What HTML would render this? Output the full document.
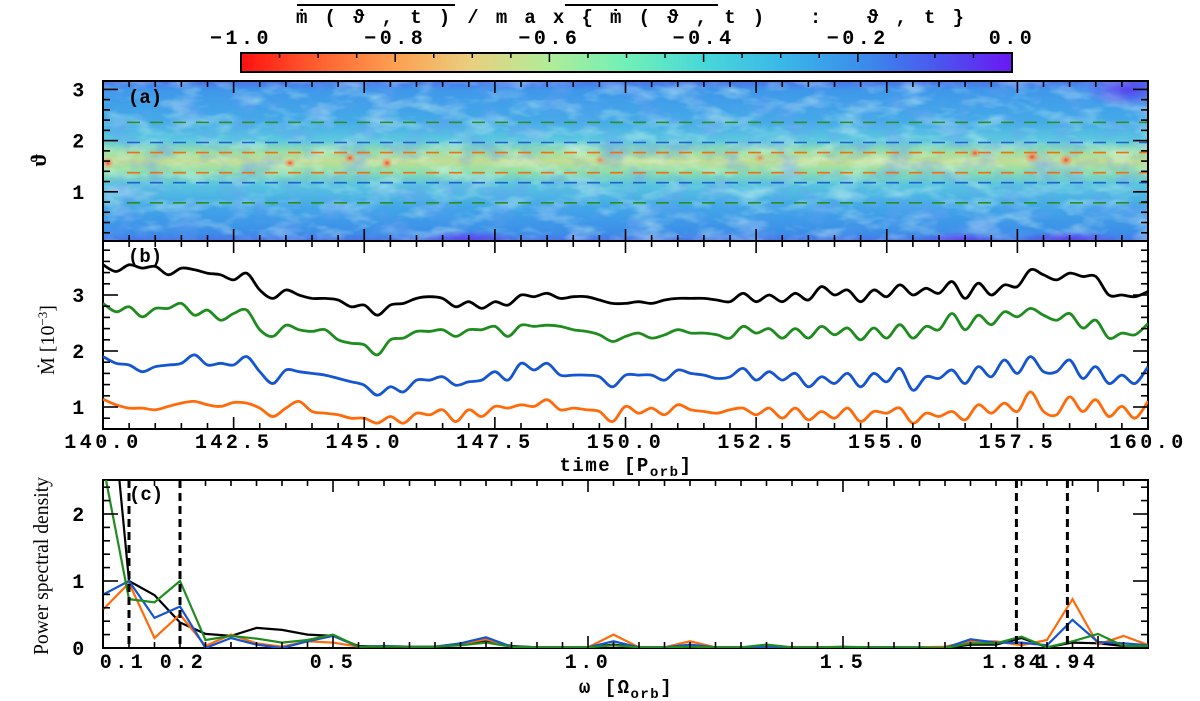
<!DOCTYPE html>
<html><head><meta charset="utf-8">
<style>
html,body{margin:0;padding:0;background:#fff;}
svg{display:block;}
.tk{font-family:"Liberation Mono",monospace;font-weight:bold;font-size:20px;letter-spacing:3.5px;fill:#000;}
.lab{font-family:"Liberation Mono",monospace;font-weight:bold;font-size:19px;fill:#000;}
</style></head>
<body>
<svg id="chart" width="1200" height="701" viewBox="0 0 1200 701" xmlns="http://www.w3.org/2000/svg">
<defs>
  <linearGradient id="cbar" x1="0" y1="0" x2="1" y2="0">
    <stop offset="0" stop-color="#ff1010"/>
    <stop offset="0.1" stop-color="#ff6030"/>
    <stop offset="0.2" stop-color="#fca050"/>
    <stop offset="0.3" stop-color="#e8d080"/>
    <stop offset="0.4" stop-color="#b0ec98"/>
    <stop offset="0.5" stop-color="#70f0b8"/>
    <stop offset="0.6" stop-color="#48d8d8"/>
    <stop offset="0.7" stop-color="#3ab8e8"/>
    <stop offset="0.8" stop-color="#3a90ea"/>
    <stop offset="0.9" stop-color="#4a58ee"/>
    <stop offset="1" stop-color="#6a18f4"/>
  </linearGradient>
  <linearGradient id="heat" x1="0" y1="0" x2="0" y2="1">
    <stop offset="0" stop-color="#4a72e8"/>
    <stop offset="0.06" stop-color="#3e98ea"/>
    <stop offset="0.25" stop-color="#44aae8"/>
    <stop offset="0.37" stop-color="#5cc8e0"/>
    <stop offset="0.45" stop-color="#a0e0a4"/>
    <stop offset="0.5" stop-color="#c4dc92"/>
    <stop offset="0.56" stop-color="#94e0aa"/>
    <stop offset="0.65" stop-color="#58c4e0"/>
    <stop offset="0.8" stop-color="#40a4e8"/>
    <stop offset="0.95" stop-color="#3c8ee8"/>
    <stop offset="1" stop-color="#4a72e8"/>
  </linearGradient>
  <filter id="mottle" x="0" y="0" width="1" height="1">
    <feTurbulence type="fractalNoise" baseFrequency="0.03 0.07" numOctaves="3" seed="7"/>
    <feColorMatrix type="matrix" values="0 0 0 0 0.8  0 0 0 0 1  0 0 0 0 0.9  2.2 0 0 0 -1.0"/>
  </filter>
  <filter id="mottle2" x="0" y="0" width="1" height="1">
    <feTurbulence type="fractalNoise" baseFrequency="0.035 0.05" numOctaves="3" seed="3"/>
    <feColorMatrix type="matrix" values="0 0 0 0 0.15  0 0 0 0 0.35  0 0 0 0 0.9  2.2 0 0 0 -1.0"/>
  </filter>
  <radialGradient id="spot"><stop offset="0" stop-color="#ff3020" stop-opacity="0.9"/><stop offset="0.5" stop-color="#fc8050" stop-opacity="0.5"/><stop offset="1" stop-color="#fc8050" stop-opacity="0"/></radialGradient>
  <radialGradient id="purp"><stop offset="0" stop-color="#6030f0" stop-opacity="0.8"/><stop offset="1" stop-color="#6030f0" stop-opacity="0"/></radialGradient>
  <clipPath id="clipA"><rect x="103" y="81" width="1045" height="160"/></clipPath>
  <clipPath id="clipB"><rect x="103" y="241" width="1045" height="188"/></clipPath>
  <clipPath id="clipC"><rect x="103" y="480" width="1045" height="168"/></clipPath>
</defs>

<!-- colorbar -->
<g>
  <text class="lab" x="296" y="23" textLength="668" lengthAdjust="spacing" font-size="21">ṁ(ϑ,t)/max{ṁ(ϑ,t) : ϑ,t}</text>
  <line x1="297" y1="5" x2="455" y2="5" stroke="#000" stroke-width="2"/>
  <line x1="565" y1="5" x2="718" y2="5" stroke="#000" stroke-width="2"/>
  <rect x="241" y="53" width="771" height="19" fill="url(#cbar)" stroke="#000" stroke-width="2"/>
  <g id="cbticks"></g>
</g>

<!-- panel a -->
<g clip-path="url(#clipA)">
  <rect x="103" y="81" width="1045" height="160" fill="url(#heat)"/>
  <rect x="103" y="81" width="1045" height="160" filter="url(#mottle)" opacity="0.5"/>
  <rect x="103" y="81" width="1045" height="160" filter="url(#mottle2)" opacity="0.55"/>
  <ellipse cx="1128" cy="90" rx="45" ry="18" fill="url(#purp)"/>
  <ellipse cx="470" cy="240" rx="50" ry="10" fill="url(#purp)"/>
  <ellipse cx="960" cy="240" rx="40" ry="8" fill="url(#purp)"/>
  <ellipse cx="1070" cy="240" rx="50" ry="9" fill="url(#purp)"/>
  <ellipse cx="1032" cy="157" rx="8" ry="6" fill="url(#spot)"/>
  <ellipse cx="1066" cy="160" rx="7" ry="6" fill="url(#spot)"/>
  <ellipse cx="975" cy="153" rx="6" ry="5" fill="url(#spot)"/>
  <ellipse cx="387" cy="163" rx="6" ry="6" fill="url(#spot)"/>
  <ellipse cx="350" cy="158" rx="6" ry="5" fill="url(#spot)"/>
  <ellipse cx="290" cy="163" rx="6" ry="5" fill="url(#spot)"/>
  <ellipse cx="108" cy="163" rx="6" ry="6" fill="url(#spot)"/>
  <ellipse cx="600" cy="160" rx="6" ry="5" fill="url(#spot)" opacity="0.6"/>
  <ellipse cx="760" cy="158" rx="6" ry="5" fill="url(#spot)" opacity="0.6"/>
  <g id="adash"></g>
</g>
<rect x="103" y="81" width="1045" height="160" fill="none" stroke="#000" stroke-width="2"/>
<text class="lab" x="128" y="103" font-size="18">(a)</text>

<!-- panel b -->
<rect x="103" y="241" width="1045" height="188" fill="#fff" stroke="#000" stroke-width="2"/>
<g id="bseries" clip-path="url(#clipB)"></g>
<text class="lab" x="128" y="262" font-size="18">(b)</text>

<!-- panel c -->
<rect x="103" y="480" width="1045" height="168" fill="#fff" stroke="#000" stroke-width="2"/>
<g id="cseries" clip-path="url(#clipC)"></g>
<text class="lab" x="129" y="500" font-size="18">(c)</text>

<g id="axes"></g>

<text x="0" y="0" transform="translate(46,160) rotate(-90)" text-anchor="middle" font-family="Liberation Serif, serif" font-weight="bold" font-size="22">ϑ</text>
<text x="0" y="0" transform="translate(54,340) rotate(-90)" text-anchor="middle" font-family="Liberation Serif, serif" font-size="20">Ṁ [10<tspan dy="-7" font-size="13">−3</tspan><tspan dy="7">]</tspan></text>
<text x="0" y="0" transform="translate(48,566) rotate(-90)" text-anchor="middle" font-family="Liberation Serif, serif" font-size="21" textLength="178" lengthAdjust="spacingAndGlyphs">Power spectral density</text>
<text class="lab" x="626" y="471" text-anchor="middle" letter-spacing="1.5">time [P<tspan dy="5" font-size="14">orb</tspan><tspan dy="-5">]</tspan></text>
<text class="lab" x="626" y="693" text-anchor="middle" letter-spacing="1.5">ω [Ω<tspan dy="5" font-size="14">orb</tspan><tspan dy="-5">]</tspan></text>
</svg>

<script>
// ---------- data ----------
const tStart = 140, tStep = 0.25;
const mdotBlack = [3.54,3.42,3.54,3.48,3.51,3.36,3.48,3.45,3.39,3.36,3.27,3.39,3.09,2.94,3.09,3.0,2.94,2.94,2.91,2.79,2.82,2.64,2.82,2.85,2.94,2.97,2.94,2.79,
 2.88,2.76,2.88,2.82,3.0,2.97,3.03,2.94,2.97,2.97,2.91,2.85,2.85,2.88,2.85,2.91,2.94,2.94,2.94,2.91,2.88,3.03,2.88,3.0,2.88,3.03,2.91,
 3.15,3.0,3.09,2.88,3.09,2.97,3.18,3.0,3.12,3.03,3.24,2.94,3.21,3.0,3.18,3.15,3.45,3.36,3.27,3.39,3.33,3.33,3.0,3.0,2.97,3.06];
const mdotGreen = [2.85,2.70,2.79,2.61,2.76,2.76,2.85,2.64,2.73,2.55,2.67,2.73,2.38,2.26,2.46,2.38,2.35,2.38,2.20,2.14,2.11,1.93,2.20,2.23,2.35,2.35,2.38,2.26,
 2.38,2.38,2.44,2.26,2.46,2.44,2.46,2.44,2.38,2.35,2.29,2.17,2.26,2.32,2.23,2.29,2.38,2.32,2.32,2.29,2.23,2.44,2.32,2.40,2.23,2.40,2.23,
 2.44,2.29,2.41,2.20,2.41,2.23,2.47,2.23,2.44,2.38,2.67,2.38,2.64,2.47,2.70,2.61,2.76,2.64,2.55,2.67,2.41,2.55,2.23,2.32,2.29,2.49];
const mdotBlue = [1.90,1.78,1.75,1.63,1.72,1.75,1.78,1.93,1.75,1.78,1.75,1.90,1.63,1.42,1.66,1.63,1.60,1.57,1.51,1.45,1.39,1.21,1.36,1.27,1.48,1.48,1.54,1.39,
 1.45,1.48,1.63,1.48,1.78,1.66,1.78,1.57,1.57,1.57,1.54,1.36,1.57,1.57,1.57,1.48,1.66,1.60,1.57,1.51,1.54,1.69,1.48,1.63,1.48,1.60,1.36,
 1.54,1.42,1.60,1.36,1.60,1.45,1.69,1.30,1.54,1.51,1.66,1.42,1.72,1.54,1.84,1.60,1.90,1.63,1.63,1.84,1.51,1.72,1.42,1.57,1.42,1.72];
const mdotOrange = [1.14,1.04,0.98,0.98,0.95,1.01,1.07,1.10,1.04,1.01,1.08,1.07,0.98,0.83,0.98,1.10,0.92,0.89,0.86,0.80,0.80,0.71,0.83,0.71,0.89,0.86,0.95,0.74,
 0.95,0.83,1.01,0.98,1.04,1.01,1.13,0.95,0.98,0.95,0.92,0.74,1.01,0.89,0.98,0.86,1.04,0.95,0.92,0.89,0.95,0.98,0.86,0.98,0.80,0.98,0.77,
 0.92,0.80,0.98,0.74,0.92,0.89,0.98,0.71,0.89,0.83,0.92,0.77,1.04,0.89,1.07,0.92,1.27,0.92,0.86,1.18,0.92,1.13,0.83,1.01,0.80,1.10];

const omega = [0.05,0.10,0.15,0.20,0.25,0.30,0.35,0.40,0.45,0.50,0.55,0.60,0.65,0.70,0.75,0.80,0.85,0.90,0.95,1.00,1.05,1.10,1.15,1.20,1.25,1.30,1.35,1.40,1.45,1.50,1.55,1.60,1.65,1.70,1.75,1.80,1.85,1.90,1.95,2.00,2.05,2.10];
const psdBlack = [5.0,1.0,0.79,0.38,0.21,0.18,0.30,0.27,0.20,0.18,0.03,0.02,0.02,0.02,0.06,0.11,0.03,0.01,0.01,0.01,0.05,0.01,0.01,0.02,0.01,0.01,0.02,0.01,0.01,0.01,0.01,0.01,0.0,0.0,0.05,0.05,0.15,0.01,0.08,0.07,0.03,0.03];
const psdGreen = [2.7,0.73,0.68,1.0,0.12,0.18,0.14,0.08,0.12,0.2,0.02,0.02,0.02,0.02,0.04,0.08,0.02,0.01,0.01,0.01,0.04,0.01,0.01,0.02,0.01,0.01,0.05,0.01,0.01,0.02,0.01,0.01,0.01,0.0,0.07,0.07,0.17,0.01,0.1,0.21,0.03,0.03];
const psdBlue = [0.8,1.0,0.45,0.62,0.0,0.15,0.05,0.0,0.1,0.18,0.02,0.03,0.02,0.02,0.07,0.16,0.02,0.01,0.01,0.01,0.1,0.01,0.01,0.05,0.01,0.01,0.02,0.01,0.01,0.01,0.01,0.01,0.01,0.0,0.13,0.08,0.08,0.04,0.42,0.09,0.07,0.04];
const psdOrange = [0.58,0.97,0.15,0.5,0.03,0.2,0.07,0.02,0.1,0.08,0.02,0.03,0.02,0.02,0.06,0.13,0.02,0.01,0.01,0.01,0.2,0.01,0.01,0.1,0.01,0.01,0.01,0.01,0.01,0.01,0.01,0.01,0.01,0.02,0.1,0.1,0.04,0.12,0.73,0.05,0.18,0.04];
const markedFreqs = [0.1,0.2,1.84,1.94];
const markedFreqLabels = ["0.1","0.2","1.84","1.94"];
const omegaTickVals = [0.5,1.0,1.5];
const omegaTickLabels = ["0.5","1.0","1.5"];
const timeTickVals = [140,142.5,145,147.5,150,152.5,155,157.5,160];
const timeTickLabels = ["140.0","142.5","145.0","147.5","150.0","152.5","155.0","157.5","160.0"];
const cbarVals = [-1.0,-0.8,-0.6,-0.4,-0.2,0.0];
const cbarLabels = ["−1.0","−0.8","−0.6","−0.4","−0.2","0.0"];
const thetaLines = [2.356,1.963,1.767,1.374,1.178,0.785];
const thetaLineColors = ["#2e8b22","#2060c8","#f07010","#f07010","#2060c8","#2e8b22"];

// ---------- scales ----------
const NS = "http://www.w3.org/2000/svg";
const xt = t => 103 + (t - 140) * 52.25;
const ya = th => 243 - 51.2 * th;
const yb = v => 295 + (3 - v) * 56;
const xc = w => 78 + 510 * w;
const yc = v => 648 - 67 * v;
const xcb = v => 241 + (v + 1) * 771;

function mk(tag, attrs, parent) {
  const e = document.createElementNS(NS, tag);
  for (const k in attrs) e.setAttribute(k, attrs[k]);
  parent.appendChild(e);
  return e;
}
function smoothPath(pts) {
  let d = "M" + pts[0][0].toFixed(1) + "," + pts[0][1].toFixed(1);
  for (let i = 0; i < pts.length - 1; i++) {
    const p0 = pts[Math.max(0, i - 1)], p1 = pts[i], p2 = pts[i + 1], p3 = pts[Math.min(pts.length - 1, i + 2)];
    const c1x = p1[0] + (p2[0] - p0[0]) / 6, c1y = p1[1] + (p2[1] - p0[1]) / 6;
    const c2x = p2[0] - (p3[0] - p1[0]) / 6, c2y = p2[1] - (p3[1] - p1[1]) / 6;
    d += " C" + c1x.toFixed(1) + "," + c1y.toFixed(1) + " " + c2x.toFixed(1) + "," + c2y.toFixed(1) + " " + p2[0].toFixed(1) + "," + p2[1].toFixed(1);
  }
  return d;
}

const cbt = document.getElementById("cbticks");
cbarVals.forEach((v, i) => {
  const x = xcb(v);
  const tl = mk("text", {x: x, y: 44, "text-anchor": "middle", class: "tk"}, cbt);
  
  
  tl.textContent = cbarLabels[i];
});
for (let v = -0.95; v < 0; v += 0.05) {
  const x = xcb(v);
  const major = Math.abs(v * 5 - Math.round(v * 5)) < 1e-6;
  mk("line", {x1: x, x2: x, y1: 54, y2: major ? 62 : 58, stroke: "#000", "stroke-width": 1.5}, cbt);
}

const ad = document.getElementById("adash");
thetaLines.forEach((th, i) => {
  const l = mk("line", {x1: 127, x2: 1148, y1: ya(th), y2: ya(th), stroke: thetaLineColors[i], "stroke-width": 1.6, "stroke-dasharray": "13 10"}, ad);
  
  
});

const bs = document.getElementById("bseries");
[[mdotBlack, "#000"], [mdotGreen, "#1e8c1e"], [mdotBlue, "#1455d0"], [mdotOrange, "#ff6a0a"]].forEach(([arr, col], si) => {
  const pts = arr.map((v, i) => [xt(tStart + i * tStep), yb(v)]);
  const p = mk("path", {d: smoothPath(pts), fill: "none", stroke: col, "stroke-width": 2.8, "stroke-linejoin": "round"}, bs);
  
  
});

const cs = document.getElementById("cseries");
[[psdBlack, "#000"], [psdOrange, "#ff6a0a"], [psdBlue, "#1455d0"], [psdGreen, "#1e8c1e"]].forEach(([arr, col], si) => {
  const d = arr.map((v, i) => (i ? "L" : "M") + xc(omega[i]).toFixed(1) + "," + yc(v).toFixed(1)).join(" ");
  const p = mk("path", {d: d, fill: "none", stroke: col, "stroke-width": 2.2, "stroke-linejoin": "miter"}, cs);
  
  
});
markedFreqs.forEach(w => {
  const l = mk("line", {x1: xc(w), x2: xc(w), y1: 480, y2: 648, stroke: "#000", "stroke-width": 3, "stroke-dasharray": "8 5"}, cs);
  
  
});

const ax = document.getElementById("axes");
function tick(x1, y1, x2, y2) { mk("line", {x1, y1, x2, y2, stroke: "#000", "stroke-width": 1.6}, ax); }
for (let t = 140.5; t < 160; t += 0.5) {
  const x = xt(t);
  const major = Math.abs(t / 2.5 - Math.round(t / 2.5)) < 1e-6;
  const L = major ? 12 : 6;
  tick(x, 81, x, 81 + L); tick(x, 241, x, 241 - L);
  tick(x, 241, x, 241 + L); tick(x, 429, x, 429 - L);
}
timeTickVals.forEach((t, i) => {
  const e = mk("text", {x: xt(t), y: 448, "text-anchor": "middle", class: "tk"}, ax);
  
  
  e.textContent = timeTickLabels[i];
});
for (let th = 0.2; th < 3.14; th += 0.2) {
  const y = ya(th);
  const major = Math.abs(th - Math.round(th)) < 1e-6;
  const L = major ? 15 : 7;
  tick(103, y, 103 + L, y); tick(1148, y, 1148 - L, y);
}
[1, 2, 3].forEach(th => {
  const e = mk("text", {x: 80, y: ya(th) + 7, "text-anchor": "middle", class: "tk"}, ax);
  
  
  e.textContent = String(th);
});
for (let v = 0.8; v < 3.95; v += 0.2) {
  const y = yb(v);
  const major = Math.abs(v - Math.round(v)) < 1e-6;
  const L = major ? 15 : 7;
  tick(103, y, 103 + L, y); tick(1148, y, 1148 - L, y);
}
[1, 2, 3].forEach(v => {
  const e = mk("text", {x: 80, y: yb(v) + 7, "text-anchor": "middle", class: "tk"}, ax);
  
  
  e.textContent = String(v);
});
for (let v = 0.2; v < 2.5; v += 0.2) {
  const y = yc(v);
  const major = Math.abs(v - Math.round(v)) < 1e-6;
  const L = major ? 15 : 7;
  tick(103, y, 103 + L, y); tick(1148, y, 1148 - L, y);
}
[0, 1, 2].forEach(v => {
  const e = mk("text", {x: 80, y: yc(v) + 7, "text-anchor": "middle", class: "tk"}, ax);
  
  
  e.textContent = String(v);
});
for (let w = 0.05; w < 2.1; w += 0.05) {
  const x = xc(w);
  if (x < 104) continue;
  const major = Math.abs(w * 2 - Math.round(w * 2)) < 1e-6;
  const L = major ? 12 : 6;
  tick(x, 480, x, 480 + L); tick(x, 648, x, 648 - L);
}
omegaTickVals.forEach((w, i) => {
  const e = mk("text", {x: xc(w), y: 668, "text-anchor": "middle", class: "tk"}, ax);
  
  
  e.textContent = omegaTickLabels[i];
});
const markedOffsets = [-6, 3, -3, 0];
markedFreqs.forEach((w, i) => {
  const e = mk("text", {x: xc(w) + markedOffsets[i], y: 668, "text-anchor": "middle", class: "tk"}, ax);
  
  
  e.textContent = markedFreqLabels[i];
});
</script>
</body></html>
